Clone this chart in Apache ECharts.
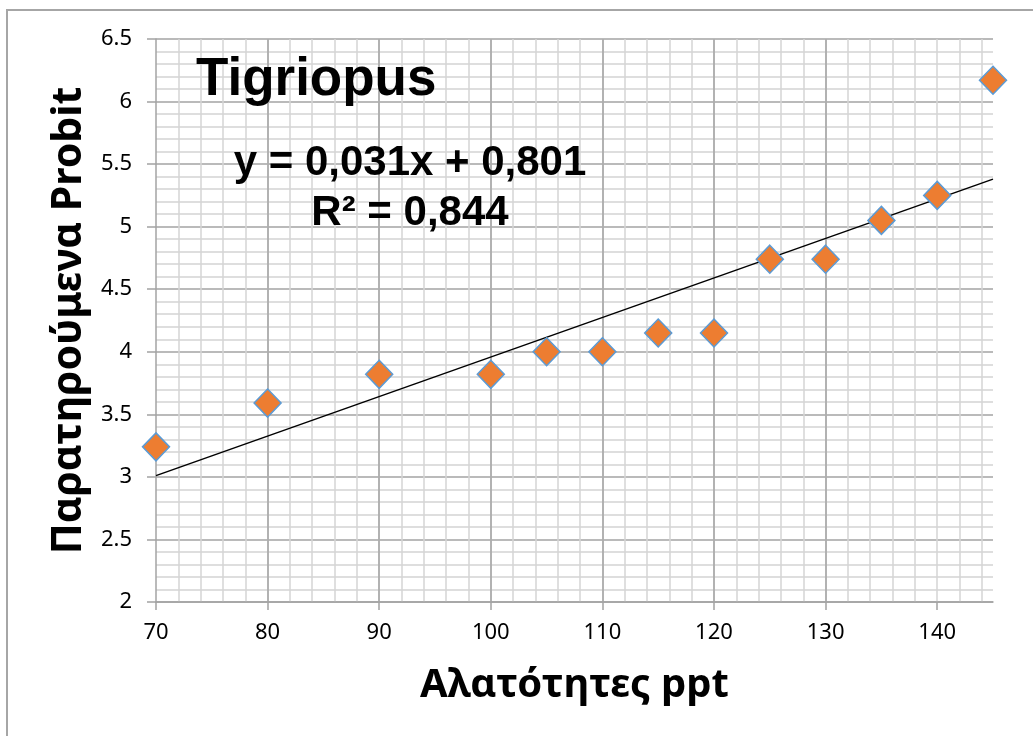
<!DOCTYPE html>
<html>
<head>
<meta charset="utf-8">
<title>Tigriopus</title>
<script src="https://cdn.jsdelivr.net/npm/echarts@6/dist/echarts.min.js"></script>
<style>
  html, body { margin: 0; padding: 0; background: #fff; }
  #chart { width: 1033px; height: 736px; }
</style>
</head>
<body>
<div id="chart"></div>
<script>
// Αλατότητες (ppt) και παρατηρούμενα probit
const salinity = [70, 80, 90, 100, 105, 110, 115, 120, 125, 130, 135, 140, 145];
const probit = [3.24, 3.59, 3.82, 3.82, 4.0, 4.0, 4.15, 4.15, 4.74, 4.74, 5.05, 5.25, 6.17];

// γραμμή τάσης, άκρα όπως φαίνονται στο γράφημα
const trendX = [70, 145];
const trendY = [3.01, 5.38];

const xTicks = [70, 80, 90, 100, 110, 120, 130, 140];
const yTicks = [2, 2.5, 3, 3.5, 4, 4.5, 5, 5.5, 6, 6.5];

const titleText = 'Tigriopus';
const equationText = 'y = 0,031x + 0,801';
const r2Text = 'R² = 0,844';
const xName = 'Αλατότητες ppt';
const yName = 'Παρατηρούμενα Probit';

const chart = echarts.init(document.getElementById('chart'));

const majorColor = '#a3a3a3';
const minorColor = '#d4d4d4';

const option = {
  backgroundColor: '#fff',
  animation: false,
  textStyle: { fontFamily: 'Noto Sans' },
  grid: { left: 156, right: 40, top: 39, bottom: 134, containLabel: false },
  graphic: [
    {
      type: 'rect',
      shape: { x: 7, y: 10, width: 1100, height: 800 },
      style: { fill: 'none', stroke: '#a6a6a6', lineWidth: 2 },
      silent: true
    },
    {
      type: 'text',
      x: 196, y: 80, z: 10,
      style: {
        text: titleText,
        font: 'bold 53px "Liberation Sans", Arial, sans-serif',
        fill: '#000', textAlign: 'left', textVerticalAlign: 'middle'
      }
    },
    {
      type: 'text',
      x: 410, y: 163, z: 10,
      style: {
        text: equationText,
        font: 'bold 42px "Liberation Sans", Arial, sans-serif',
        fill: '#000', textAlign: 'center', textVerticalAlign: 'middle'
      }
    },
    {
      type: 'text',
      x: 410, y: 213, z: 10,
      style: {
        text: r2Text,
        font: 'bold 42px "Liberation Sans", Arial, sans-serif',
        fill: '#000', textAlign: 'center', textVerticalAlign: 'middle'
      }
    }
  ],
  xAxis: [
    {
      // μόνο για τις δευτερεύουσες κάθετες γραμμές (κάθε 2)
      type: 'value',
      min: 70, max: 145, interval: 2,
      position: 'bottom',
      z: 0,
      axisLine: { show: false },
      axisTick: { show: false },
      axisLabel: { show: false },
      splitLine: {
        show: true, showMinLine: false, showMaxLine: false,
        lineStyle: { color: minorColor, width: 1.5 }
      }
    },
    {
      type: 'value',
      min: 70, max: 145, interval: 10,
      position: 'bottom',
      z: 1,
      name: xName,
      nameLocation: 'middle',
      nameGap: 64,
      nameTextStyle: { fontFamily: 'Noto Sans', fontWeight: 'bold', fontSize: 40, color: '#000' },
      axisLine: { show: true, onZero: false, lineStyle: { color: majorColor, width: 1.5 } },
      axisTick: { show: true, length: 8, customValues: xTicks, lineStyle: { color: majorColor, width: 1.5 } },
      axisLabel: {
        show: true,
        margin: 20,
        showMaxLabel: false,
        hideOverlap: false,
        textStyle: { fontFamily: 'Noto Sans', fontSize: 22, color: '#000' },
        fontFamily: 'Noto Sans',
        fontSize: 22,
        color: '#000'
      },
      splitLine: {
        show: true, showMinLine: false, showMaxLine: false,
        lineStyle: { color: majorColor, width: 1.5 }
      }
    }
  ],
  yAxis: {
    type: 'value',
    min: 2, max: 6.5, interval: 0.5,
    name: yName,
    nameLocation: 'middle',
    nameGap: 62,
    nameTextStyle: { fontFamily: 'Noto Sans', fontWeight: 'bold', fontSize: 41, color: '#000' },
    axisLine: { show: true, onZero: false, lineStyle: { color: majorColor, width: 1.5 } },
    axisTick: { show: true, length: 9, customValues: yTicks, lineStyle: { color: majorColor, width: 1.5 } },
    axisLabel: {
      show: true,
      margin: 24,
      hideOverlap: false,
      textStyle: { fontFamily: 'Noto Sans', fontSize: 22, color: '#000' },
      fontFamily: 'Noto Sans',
      fontSize: 22,
      color: '#000'
    },
    splitLine: { show: true, lineStyle: { color: majorColor, width: 1.5 } },
    minorTick: { show: false, splitNumber: 5 },
    minorSplitLine: { show: true, lineStyle: { color: minorColor, width: 1.5 } }
  },
  series: [
    {
      name: 'trend',
      type: 'line',
      xAxisIndex: 1,
      data: trendX.map((x, i) => [x, trendY[i]]),
      symbol: 'none',
      lineStyle: { color: '#000', width: 1.5 },
      z: 3
    },
    {
      name: 'probit',
      type: 'scatter',
      xAxisIndex: 1,
      data: salinity.map((x, i) => [x, probit[i]]),
      symbol: 'diamond',
      symbolSize: [27, 28],
      itemStyle: { color: '#ED7D31', borderColor: '#5B9BD5', borderWidth: 1.5, opacity: 1 },
      z: 4
    }
  ]
};

chart.setOption(option);
</script>
</body>
</html>
